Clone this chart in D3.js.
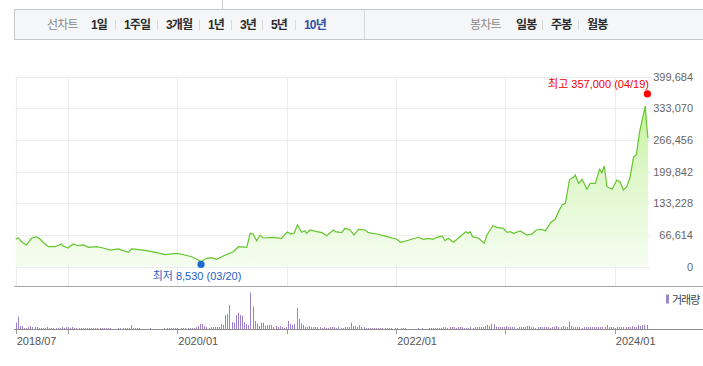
<!DOCTYPE html>
<html>
<head>
<meta charset="utf-8">
<script src="https://cdn.jsdelivr.net/npm/d3@7"></script>
<style>
  body { margin: 0; background: #fff; }
  svg text { font-family: "Liberation Sans", Arial, "Noto Sans CJK KR", sans-serif; }
</style>
</head>
<body>
<div id="chart"></div>
<script>
// weekly closes
var priceDates = ["2018-07-10","2018-07-18","2018-07-30","2018-08-15","2018-09-01","2018-09-16","2018-09-29","2018-10-12","2018-10-27","2018-11-18",
  "2018-12-10","2018-12-15","2019-01-01","2019-01-18","2019-02-04","2019-02-21","2019-03-10","2019-04-06","2019-04-28","2019-05-21",
  "2019-06-18","2019-07-21","2019-08-01","2019-08-18","2019-09-20","2019-10-24","2019-11-21","2019-12-30","2020-01-26","2020-02-18",
  "2020-03-20","2020-04-08","2020-04-25","2020-05-11","2020-06-02","2020-07-06","2020-07-23","2020-08-20","2020-08-31","2020-09-10",
  "2020-09-22","2020-10-03","2020-10-14","2020-11-16","2020-12-14","2021-01-02","2021-01-14","2021-01-25","2021-02-05","2021-02-19",
  "2021-03-02","2021-03-08","2021-03-19","2021-04-11","2021-04-28","2021-05-14","2021-06-05","2021-06-11","2021-07-03","2021-07-14",
  "2021-07-31","2021-08-13","2021-08-28","2021-09-19","2021-09-30","2021-10-28","2021-12-01","2022-01-03","2022-01-16","2022-02-05",
  "2022-02-22","2022-03-16","2022-04-02","2022-04-19","2022-05-03","2022-05-17","2022-06-04","2022-06-13","2022-06-24","2022-07-11",
  "2022-08-02","2022-08-21","2022-08-30","2022-09-05","2022-09-13","2022-10-03","2022-10-22","2022-10-31","2022-11-20","2022-12-03",
  "2022-12-25","2023-01-06","2023-01-17","2023-01-28","2023-02-19","2023-03-14","2023-03-31","2023-04-14","2023-05-02","2023-05-14",
  "2023-06-02","2023-06-16","2023-06-27","2023-07-09","2023-07-20","2023-08-03","2023-08-17","2023-08-22","2023-09-02","2023-09-14",
  "2023-09-30","2023-10-11","2023-10-28","2023-11-11","2023-11-19","2023-11-27","2023-12-06","2023-12-23","2024-01-08","2024-01-19",
  "2024-01-30","2024-02-10","2024-02-21","2024-03-04","2024-03-13","2024-03-24","2024-04-12","2024-04-16","2024-04-21"];
var priceValues = [57300,60600,52200,45300,59400,62800,57900,49500,41700,41700,
  47400,43200,39000,47400,43800,45300,40400,41700,39000,34700,
  36900,29900,36900,36000,33300,29100,24900,27800,24200,20600,
  10500,17300,18600,15200,22100,31200,41700,40400,69900,68400,
  54300,65700,60000,61500,59400,72600,68400,69900,87400,72000,
  75500,70000,76900,73300,71200,64900,76900,73300,71600,80400,
  76900,66300,78300,76900,71200,68400,62800,57300,51000,54300,
  57300,61500,57300,59400,57300,61500,64200,54300,59400,51000,
  62800,73300,69900,73300,62800,59400,48900,66300,85900,82500,
  80400,72000,73300,69900,74800,66300,68400,76900,78300,75000,
  93100,99400,115400,129500,133100,183600,187800,192600,175200,183600,
  162600,175200,175200,204700,197600,211600,168000,162600,182200,178000,
  161100,168000,187800,231200,234800,283900,338000,301500,270000];

// weekly volume, thousand shares (estimated), one bar per week from 2018-07-10
var volumeStart = "2018-07-10";
var volumeValues = [67,127,33,33,13,13,23,33,23,23,
  23,13,13,13,13,23,13,13,13,13,
  13,13,23,13,23,23,13,23,13,13,
  13,13,13,13,13,13,13,13,13,13,
  13,13,13,13,13,13,0,0,0,13,
  13,13,13,13,13,43,13,13,13,13,
  0,0,0,0,13,0,0,0,0,0,
  0,13,13,13,13,13,13,13,0,13,
  13,13,13,13,13,13,23,33,53,53,
  33,23,13,23,23,23,23,23,53,43,
  143,153,243,73,67,143,167,143,137,73,
  53,43,367,227,83,60,33,67,67,33,
  43,43,43,23,33,23,33,23,13,23,
  83,53,43,53,213,103,60,43,23,23,
  33,23,23,23,23,23,13,23,13,13,
  23,23,23,13,23,13,13,23,23,23,
  67,33,33,23,40,23,23,13,13,13,
  13,13,13,13,13,13,13,13,13,13,
  0,13,13,0,13,13,13,0,0,0,
  0,0,13,0,13,0,0,13,13,13,
  13,13,13,13,23,23,13,23,23,23,
  13,23,23,23,13,13,13,23,13,23,
  23,23,23,23,33,43,33,53,50,27,
  23,23,23,23,33,23,23,23,23,13,
  23,23,23,23,33,33,23,23,13,23,
  23,23,23,23,23,13,23,23,33,23,
  23,33,23,23,77,33,23,23,23,23,
  13,23,23,23,23,23,23,23,23,23,
  23,23,43,23,23,23,13,23,23,23,
  23,23,23,23,33,23,23,43,33,43,
  43,43];

var yTicks = [0, 66614, 133228, 199842, 266456, 333070, 399684];
var xLabelDates = ["2018-07-10", "2020-01-01", "2022-01-01", "2024-01-01"];
var xLabels = ["2018/07", "2020/01", "2022/01", "2024/01"];
var xGridDates = ["2018-07-10","2019-01-01","2020-01-01","2021-01-01","2022-01-01","2023-01-01","2024-01-01"];

var lineTabs = ["1일", "1주일", "3개월", "1년", "3년", "5년", "10년"];
var lineTabX = [91, 124, 166, 208, 240, 271, 304];
var candleTabs = ["일봉", "주봉", "월봉"];
var candleTabX = [516, 551, 587];

var maxInfo = {date: "2024-04-19", value: 357000, label: "최고 357,000 (04/19)"};
var minInfo = {date: "2020-03-20", value: 8530, label: "최저 8,530 (03/20)"};

var parse = d3.utcParse("%Y-%m-%d");
var prices = priceDates.map(function(d, i) { return {date: parse(d), value: priceValues[i]}; });
var vols = volumeValues.map(function(v, i) { return {date: d3.utcDay.offset(parse(volumeStart), 7 * i), value: v}; });

var W = 703, H = 366;
var svg = d3.select("#chart").append("svg").attr("width", W).attr("height", H);

// ---- top tab bar
svg.append("line").attr("x1", 222.5).attr("x2", 222.5).attr("y1", 0).attr("y2", 9).attr("stroke", "#cfcfcf");
svg.append("rect").attr("x", 14.5).attr("y", 9.5).attr("width", 700).attr("height", 30)
   .attr("fill", "#f5f6f8").attr("stroke", "#c8c8c8");
svg.append("line").attr("x1", 364.5).attr("x2", 364.5).attr("y1", 10).attr("y2", 39).attr("stroke", "#d6d6d6");

function tabs(title, titleX, names, xs) {
  var g = svg.append("g").style("font-size", "12px").style("letter-spacing", "-0.8px");
  g.append("text").attr("x", titleX).attr("y", 25).attr("dominant-baseline", "central")
    .attr("fill", "#8a8a8a").text(title);
  g.selectAll(".tab").data(names).enter().append("text")
    .attr("x", function(d, i) { return xs[i]; })
    .attr("y", 25).attr("dominant-baseline", "central")
    .attr("font-weight", "bold")
    .attr("fill", function(d) { return d == "10년" ? "#2f4fa5" : "#2b2b2b"; })
    .text(function(d) { return d; });
  g.selectAll(".sep").data(names.slice(1)).enter().append("line")
    .attr("x1", function(d, i) { return xs[i + 1] - 8.5; })
    .attr("x2", function(d, i) { return xs[i + 1] - 8.5; })
    .attr("y1", 20).attr("y2", 30).attr("stroke", "#d9d9d9");
}
tabs("선차트", 47, lineTabs, lineTabX);
tabs("봉차트", 470, candleTabs, candleTabX);

// ---- scales
var x = d3.scaleUtc().domain([parse("2018-07-10"), parse("2024-04-21")]).range([15.7, 648]);
var y = d3.scaleLinear().domain([0, 399684]).range([266.5, 76.7]);
var yv = d3.scaleLinear().domain([0, d3.max(volumeValues)]).range([329.3, 292.6]);

// grid
svg.append("g").selectAll("line").data(yTicks).enter().append("line")
  .attr("x1", 15).attr("x2", 650)
  .attr("y1", function(d) { return Math.round(y(d)) + 0.5; })
  .attr("y2", function(d) { return Math.round(y(d)) + 0.5; })
  .attr("stroke", "#ececec");
svg.append("g").selectAll("line").data(xGridDates).enter().append("line")
  .attr("x1", function(d) { return Math.round(x(parse(d))) + 0.5; })
  .attr("x2", function(d) { return Math.round(x(parse(d))) + 0.5; })
  .attr("y1", 77).attr("y2", 286)
  .attr("stroke", "#ececec");

// right axis labels
svg.append("g").selectAll("text").data(yTicks).enter().append("text")
  .attr("x", 693).attr("y", function(d) { return y(d); })
  .attr("dominant-baseline", "central").attr("text-anchor", "end")
  .style("font-size", "11px").attr("fill", "#666")
  .text(function(d) { return d3.format(",")(d); });

// area + line
var grad = svg.append("defs").append("linearGradient").attr("id", "fillG")
  .attr("gradientUnits", "userSpaceOnUse").attr("x1", 0).attr("x2", 0).attr("y1", 77).attr("y2", 267);
grad.append("stop").attr("offset", 0).attr("stop-color", "#b9ef86");
grad.append("stop").attr("offset", 0.5).attr("stop-color", "#def7c9");
grad.append("stop").attr("offset", 1).attr("stop-color", "#f6fdf1");

svg.append("path").datum(prices)
  .attr("fill", "url(#fillG)")
  .attr("d", d3.area().x(function(d) { return x(d.date); }).y0(y(0)).y1(function(d) { return y(d.value); }));
svg.append("path").datum(prices)
  .attr("fill", "none").attr("stroke", "#62c62c").attr("stroke-width", 1.2)
  .attr("d", d3.line().x(function(d) { return x(d.date); }).y(function(d) { return y(d.value); }));

// max / min markers
svg.append("circle").attr("cx", x(parse(maxInfo.date))).attr("cy", y(maxInfo.value) - 3)
  .attr("r", 3.6).attr("fill", "#ff0000");
svg.append("text").attr("x", 649).attr("y", 84).attr("dominant-baseline", "central")
  .attr("text-anchor", "end").style("font-size", "11px").attr("fill", "#ee0000").text(maxInfo.label);
svg.append("circle").attr("cx", x(parse(minInfo.date))).attr("cy", y(minInfo.value) + 2)
  .attr("r", 3.6).attr("fill", "#1d6ad6");
svg.append("text").attr("x", 197).attr("y", 275.5).attr("dominant-baseline", "central")
  .attr("text-anchor", "middle").style("font-size", "11px").attr("fill", "#1f5fc8").text(minInfo.label);

// ---- volume panel
svg.append("line").attr("x1", 14).attr("x2", 703).attr("y1", 286.5).attr("y2", 286.5).attr("stroke", "#a9a9a9");
svg.append("g").selectAll("rect").data(vols.filter(function(d) { return d.value > 0; })).enter().append("rect")
  .attr("x", function(d) { return Math.round(x(d.date)); })
  .attr("width", 1)
  .attr("y", function(d) { return yv(d.value); })
  .attr("height", function(d) { return yv(0) - yv(d.value); })
  .attr("fill", "#9a80cc");
svg.append("line").attr("x1", 14).attr("x2", 703).attr("y1", 329.5).attr("y2", 329.5).attr("stroke", "#8c8c8c");
svg.append("g").selectAll("line").data(xGridDates).enter().append("line")
  .attr("x1", function(d) { return Math.round(x(parse(d))) + 0.5; })
  .attr("x2", function(d) { return Math.round(x(parse(d))) + 0.5; })
  .attr("y1", 330).attr("y2", 334).attr("stroke", "#9a9a9a");
svg.append("g").selectAll("text").data(xLabelDates).enter().append("text")
  .attr("x", function(d) { return x(parse(d)) + 1; })
  .attr("y", 341).attr("dominant-baseline", "central")
  .style("font-size", "11px").attr("fill", "#555")
  .text(function(d, i) { return xLabels[i]; });

// legend
svg.append("rect").attr("x", 666).attr("y", 294.5).attr("width", 3).attr("height", 9).attr("fill", "#9a86c8");
svg.append("text").attr("x", 672).attr("y", 299.5).attr("dominant-baseline", "central")
  .style("font-size", "11px").style("letter-spacing", "-1px").attr("fill", "#444").text("거래량");
</script>
</body>
</html>
